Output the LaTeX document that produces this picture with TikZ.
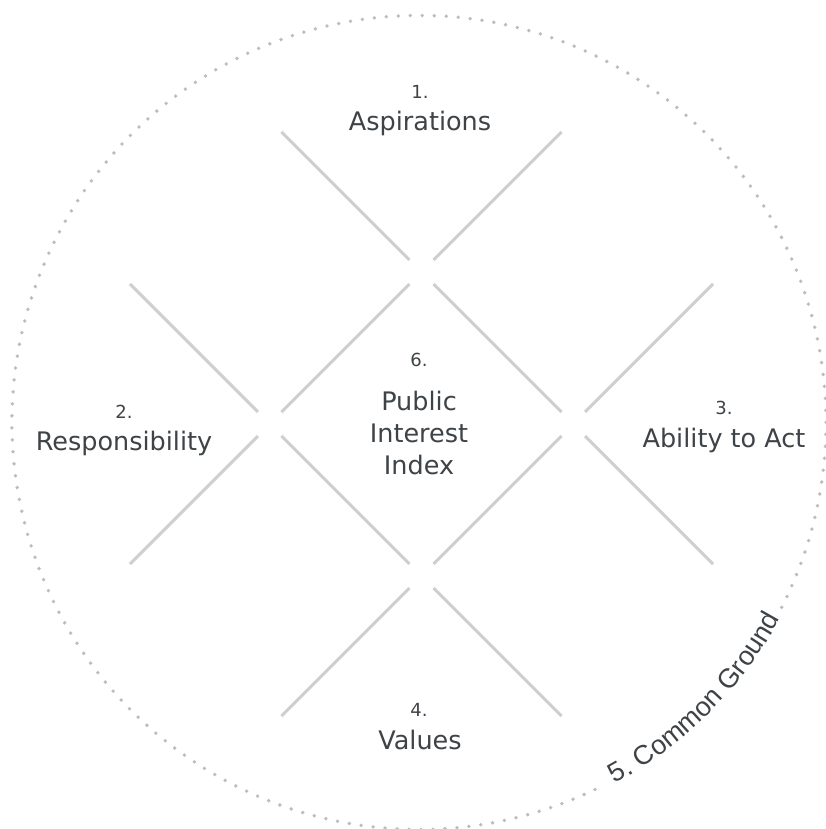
\documentclass[tikz,border=0pt]{standalone}
\usepackage{fontspec}
\setmainfont{DejaVu Sans}
\newfontfamily\arcfont{Liberation Sans}
\usetikzlibrary{calc,decorations.text}
\definecolor{linegray}{HTML}{CFCFCF}
\definecolor{dotgray}{HTML}{BDBDBD}
\definecolor{txtgray}{HTML}{3E4347}
\tikzset{
  arm/.style={draw=linegray, line width=3pt},
  numlbl/.style={anchor=base, text=txtgray, font=\fontsize{18}{20}\selectfont, inner sep=0pt},
  mainlbl/.style={anchor=base, text=txtgray, font=\fontsize{25.5}{30}\selectfont, inner sep=0pt},
  dotring/.style={draw=dotgray, line width=3.8pt, line cap=round, dash pattern=on 0pt off 12pt},
}
\newcommand\armseg[2]{\draw[arm] ($(#1)+(#2:17)$) -- ($(#1)+(#2:198)$);}
\begin{document}
\begin{tikzpicture}[x=1pt,y=1pt]
\useasboundingbox (0,0) rectangle (825,829);
\fill[white] (0,0) rectangle (825,829);
% cross centres
\coordinate (T) at (421.5,557);
\coordinate (L) at (270,405);
\coordinate (R) at (573,405);
\coordinate (B) at (421.5,253);
\coordinate (O) at (419,406.5);
% outer arms
\armseg{T}{45}\armseg{T}{135}
\armseg{L}{135}\armseg{L}{225}
\armseg{R}{45}\armseg{R}{-45}
\armseg{B}{-135}\armseg{B}{-45}
% inner diamond
\armseg{T}{-135}\armseg{T}{-45}
\armseg{B}{45}\armseg{B}{135}
% dotted ring with gap for label
\draw[dotring] (O) ++(-27:407) arc[start angle=-27, end angle=297, radius=407];
\path[decorate, decoration={text along path, text align=center,
  text={|\arcfont\fontsize{27}{30}\selectfont\color{txtgray}|5. Common Ground}}]
  (O) ++(-64:411) arc[start angle=-64, end angle=-26, radius=411];
% labels
\node[numlbl] (n1) at (420,730) {1.};
\node[mainlbl] (l1) at (420,698) {Aspirations};
\node[numlbl] (n2) at (124,410) {2.};
\node[mainlbl] (l2) at (124,378) {Responsibility};
\node[numlbl] (n3) at (724,414) {3.};
\node[mainlbl] (l3) at (724,381) {Ability to Act};
\node[numlbl] (n4) at (419,112) {4.};
\node[mainlbl] (l4) at (420,79) {Values};
\node[numlbl] (n6) at (419,462) {6.};
\node[mainlbl] (l6a) at (419,418) {Public};
\node[mainlbl] (l6b) at (419,386) {Interest};
\node[mainlbl] (l6c) at (419,354) {Index};
\end{tikzpicture}
\end{document}
